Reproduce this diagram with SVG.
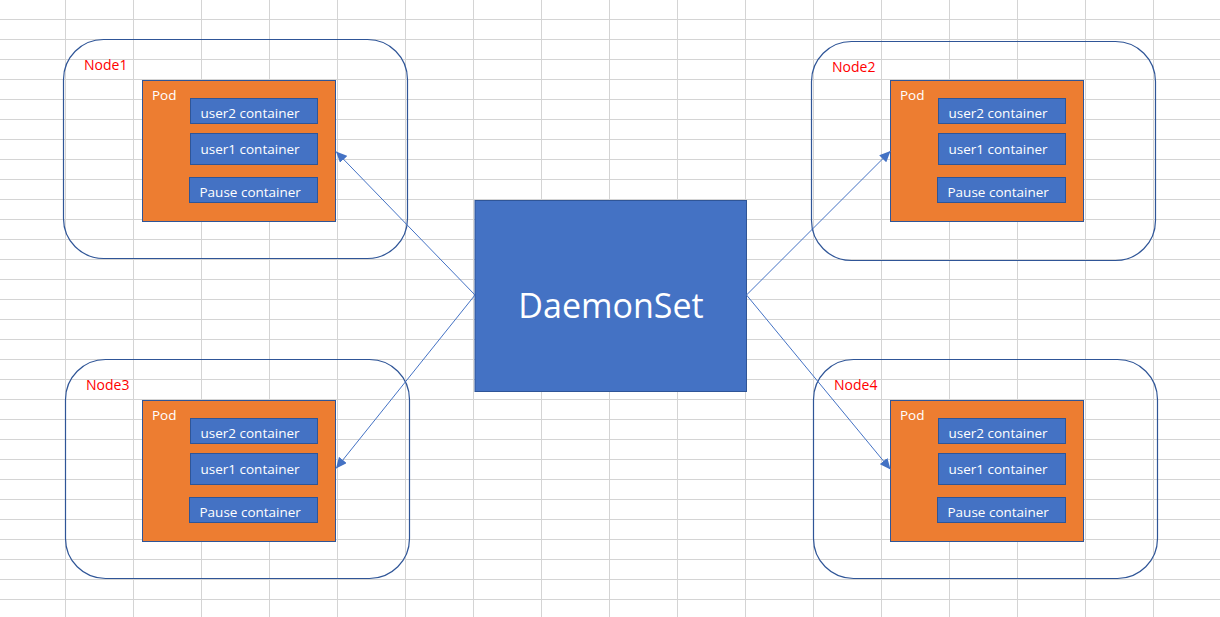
<svg xmlns="http://www.w3.org/2000/svg" width="1220" height="617" viewBox="0 0 1220 617">
<style>
.grid{stroke:#d4d4d4;stroke-width:1;fill:none}
.node{fill:none;stroke:#2f5597;stroke-width:1.2}
.nlabel{fill:#ff0000;font-family:"Open Sans","Noto Sans",sans-serif;font-size:14px}
.pod{fill:#ed7d31;stroke:#2f5597;stroke-width:1}
.podt{fill:#ffffff;font-family:"Open Sans","Noto Sans",sans-serif;font-size:13.5px}
.ctr{fill:#4472c4;stroke:#2f5597;stroke-width:1}
.ct{fill:#ffffff;font-family:"Open Sans","Noto Sans",sans-serif;font-size:13.5px}
.ds{fill:#4472c4;stroke:#2f5597;stroke-width:1}
.dst{fill:#ffffff;font-family:"Open Sans","Noto Sans",sans-serif;font-size:34px;text-anchor:middle}
.conn{stroke:#4472c4;stroke-width:1;fill:none}
</style>
<defs>
<marker id="arr" markerUnits="userSpaceOnUse" markerWidth="12" markerHeight="10" refX="11" refY="5" orient="auto">
<path d="M0,0 L11,5 L0,10 z" fill="#4472c4"/>
</marker>
</defs>
<rect x="0" y="0" width="1220" height="617" fill="#ffffff"/>
<path class="grid" d="M65.5 0V617M133.5 0V617M201.5 0V617M269.5 0V617M337.5 0V617M405.5 0V617M473.5 0V617M541.5 0V617M609.5 0V617M677.5 0V617M745.5 0V617M813.5 0V617M881.5 0V617M949.5 0V617M1017.5 0V617M1085.5 0V617M1153.5 0V617M0 19.5H1220M0 39.5H1220M0 59.5H1220M0 79.5H1220M0 99.5H1220M0 119.5H1220M0 139.5H1220M0 159.5H1220M0 179.5H1220M0 199.5H1220M0 219.5H1220M0 239.5H1220M0 259.5H1220M0 279.5H1220M0 299.5H1220M0 319.5H1220M0 339.5H1220M0 359.5H1220M0 379.5H1220M0 399.5H1220M0 419.5H1220M0 439.5H1220M0 459.5H1220M0 479.5H1220M0 499.5H1220M0 519.5H1220M0 539.5H1220M0 559.5H1220M0 579.5H1220M0 599.5H1220"/>

<g id="node1">
<rect class="node" x="63.5" y="39.5" width="344" height="219" rx="40" ry="40"/>
<text class="nlabel" x="84" y="70">Node1</text>
<rect class="pod" x="142.5" y="80.5" width="193" height="141"/>
<text class="podt" x="152" y="100">Pod</text>
<rect class="ctr" x="190.5" y="98.5" width="127" height="25"/>
<text class="ct" x="200.5" y="117.5">user2 container</text>
<rect class="ctr" x="190.5" y="133.5" width="127" height="31"/>
<text class="ct" x="200.5" y="153.5">user1 container</text>
<rect class="ctr" x="189.5" y="177.5" width="128" height="25"/>
<text class="ct" x="199.5" y="196.5">Pause container</text>
</g>

<g id="node2">
<rect class="node" x="811.5" y="41.5" width="344" height="219" rx="40" ry="40"/>
<text class="nlabel" x="832" y="72">Node2</text>
<rect class="pod" x="890.5" y="80.5" width="193" height="141"/>
<text class="podt" x="900" y="100">Pod</text>
<rect class="ctr" x="938.5" y="98.5" width="127" height="25"/>
<text class="ct" x="948.5" y="117.5">user2 container</text>
<rect class="ctr" x="938.5" y="133.5" width="127" height="31"/>
<text class="ct" x="948.5" y="153.5">user1 container</text>
<rect class="ctr" x="937.5" y="177.5" width="128" height="25"/>
<text class="ct" x="947.5" y="196.5">Pause container</text>
</g>

<g id="node3">
<rect class="node" x="65.5" y="359.5" width="344" height="219" rx="40" ry="40"/>
<text class="nlabel" x="86" y="390">Node3</text>
<rect class="pod" x="142.5" y="400.5" width="193" height="141"/>
<text class="podt" x="152" y="420">Pod</text>
<rect class="ctr" x="190.5" y="418.5" width="127" height="25"/>
<text class="ct" x="200.5" y="437.5">user2 container</text>
<rect class="ctr" x="190.5" y="453.5" width="127" height="31"/>
<text class="ct" x="200.5" y="473.5">user1 container</text>
<rect class="ctr" x="189.5" y="497.5" width="128" height="25"/>
<text class="ct" x="199.5" y="516.5">Pause container</text>
</g>

<g id="node4">
<rect class="node" x="813.5" y="359.5" width="344" height="219" rx="40" ry="40"/>
<text class="nlabel" x="834" y="390">Node4</text>
<rect class="pod" x="890.5" y="400.5" width="193" height="141"/>
<text class="podt" x="900" y="420">Pod</text>
<rect class="ctr" x="938.5" y="418.5" width="127" height="25"/>
<text class="ct" x="948.5" y="437.5">user2 container</text>
<rect class="ctr" x="938.5" y="453.5" width="127" height="31"/>
<text class="ct" x="948.5" y="473.5">user1 container</text>
<rect class="ctr" x="937.5" y="497.5" width="128" height="25"/>
<text class="ct" x="947.5" y="516.5">Pause container</text>
</g>

<g id="daemonset">
<rect class="ds" x="475" y="200.5" width="271.5" height="191"/>
<text class="dst" x="611" y="318">DaemonSet</text>
</g>

<g id="connectors">
<line class="conn" x1="475" y1="295" x2="336" y2="151.5" marker-end="url(#arr)"/>
<line class="conn" x1="475" y1="295" x2="336" y2="468.5" marker-end="url(#arr)"/>
<line class="conn" x1="746.5" y1="295" x2="890.5" y2="151" marker-end="url(#arr)"/>
<line class="conn" x1="746.5" y1="295" x2="890.5" y2="469.5" marker-end="url(#arr)"/>
</g>
</svg>
